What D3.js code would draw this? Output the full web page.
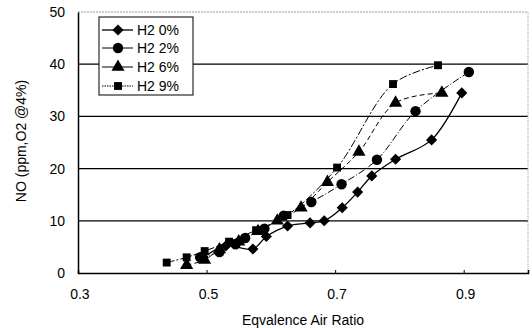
<!DOCTYPE html>
<html>
<head>
<meta charset="utf-8">
<script src="https://cdn.jsdelivr.net/npm/d3@7"></script>
<style>
  body { margin: 0; background: #fff; }
  text { font-family: "Liberation Sans", Arial, sans-serif; fill: #000; }
</style>
</head>
<body>
<div id="chart"></div>
<script>
// data
const seriesNames = ["H2 0%", "H2 2%", "H2 6%", "H2 9%"];
const xH0 = [0.495, 0.53, 0.572, 0.593, 0.626, 0.661, 0.683, 0.711, 0.735, 0.757, 0.794, 0.85, 0.897];
const yH0 = [3.0, 5.2, 4.6, 7.0, 9.0, 9.6, 10.0, 12.5, 15.5, 18.6, 21.8, 25.5, 34.5];
const xH2 = [0.49, 0.52, 0.545, 0.56, 0.59, 0.62, 0.663, 0.71, 0.765, 0.825, 0.908];
const yH2 = [3.0, 4.0, 5.5, 6.7, 8.5, 11.0, 13.6, 17.0, 21.7, 31.0, 38.5];
const xH6 = [0.469, 0.497, 0.52, 0.55, 0.58, 0.61, 0.647, 0.688, 0.737, 0.794, 0.866];
const yH6 = [1.5, 2.5, 4.5, 6.0, 8.0, 10.0, 12.5, 17.4, 23.2, 32.6, 34.5];
const xH9 = [0.438, 0.469, 0.497, 0.535, 0.577, 0.626, 0.703, 0.79, 0.86];
const yH9 = [2.0, 3.0, 4.2, 6.0, 8.2, 11.1, 20.2, 36.2, 39.8];
const xTicks = [0.3, 0.5, 0.7, 0.9];
const yTicks = [0, 10, 20, 30, 40, 50];

const width = 532, height = 328;
const margin = {top: 12, right: 4, bottom: 55, left: 78};

const svg = d3.select("#chart").append("svg")
  .attr("width", width)
  .attr("height", height);

const x = d3.scaleLinear().domain([0.3, 1.0]).range([margin.left, width - margin.right]);
const y = d3.scaleLinear().domain([0, 50]).range([height - margin.bottom, margin.top]);

// grid lines
svg.append("g")
  .selectAll("line")
  .data(yTicks.filter(d => d > 0))
  .join("line")
    .attr("x1", x(0.3))
    .attr("x2", x(1.0))
    .attr("y1", d => y(d))
    .attr("y2", d => y(d))
    .attr("stroke", d => d == 50 ? "#999" : "#000")
    .attr("stroke-dasharray", d => d == 50 ? "2,1" : null)
    .attr("stroke-width", 1.2);

// right border, dotted
svg.append("line")
  .attr("x1", x(1.0)).attr("x2", x(1.0))
  .attr("y1", y(50)).attr("y2", y(0))
  .attr("stroke", "#999")
  .attr("stroke-dasharray", "1,1");

// y axis
const yAxis = svg.append("g")
  .attr("transform", `translate(${x(0.3)},0)`)
  .call(d3.axisLeft(y).tickValues(yTicks).tickSize(0).tickPadding(13));
yAxis.select(".domain").attr("stroke", "#000").attr("stroke-width", 1.5);
yAxis.selectAll("text").style("font-size", "14px");

// x axis
const xAxis = svg.append("g")
  .attr("transform", `translate(0,${y(0)})`)
  .call(d3.axisBottom(x).tickValues(xTicks).tickFormat(d3.format(".1f")).tickSize(-3).tickPadding(16));
xAxis.select(".domain").attr("stroke", "#000").attr("stroke-width", 1.5);
xAxis.selectAll("line").attr("stroke", "#000");
xAxis.selectAll("text").style("font-size", "14px").attr("dx", "0.1em");

// axis titles
svg.append("text")
  .attr("x", 303)
  .attr("y", 325)
  .attr("text-anchor", "middle")
  .style("font-size", "14px")
  .text("Eqvalence Air Ratio");

svg.append("text")
  .attr("transform", `translate(26,141) rotate(-90)`)
  .attr("text-anchor", "middle")
  .style("font-size", "14px")
  .text("NO (ppm,O2 @4%)");

// series (diamond = square turned 45 degrees)
const series = [
  {name: seriesNames[0], xs: xH0, ys: yH0, symbol: d3.symbolSquare, rot: 45, size: 62, dash: null, lw: 1.3},
  {name: seriesNames[1], xs: xH2, ys: yH2, symbol: d3.symbolCircle, rot: 0, size: 85, dash: "7,2,1,2", lw: 1},
  {name: seriesNames[2], xs: xH6, ys: yH6, symbol: d3.symbolTriangle, rot: 0, size: 75, dash: "5,3", lw: 1},
  {name: seriesNames[3], xs: xH9, ys: yH9, symbol: d3.symbolSquare, rot: 0, size: 62, dash: "8,2,2,2", lw: 1}
];

const line = d3.line()
  .x(d => x(d[0]))
  .y(d => y(d[1]))
  .curve(d3.curveCatmullRom.alpha(0.5));

series.forEach(function(s) {
  const pts = s.xs.map((v, i) => [v, s.ys[i]]);
  svg.append("path")
    .datum(pts)
    .attr("d", line)
    .attr("fill", "none")
    .attr("stroke", "#000")
    .attr("stroke-width", s.lw)
    .attr("stroke-dasharray", s.dash);
  svg.append("g")
    .selectAll("path")
    .data(pts)
    .join("path")
      .attr("transform", d => `translate(${x(d[0])},${y(d[1])}) rotate(${s.rot})`)
      .attr("d", d3.symbol().type(s.symbol).size(s.size))
      .attr("fill", "#000");
});

// legend
const leg = svg.append("g");
leg.append("rect")
  .attr("x", 99).attr("y", 17)
  .attr("width", 94).attr("height", 78)
  .attr("fill", "#fff")
  .attr("stroke", "#000");

const rowY = [30, 48, 67, 86];
series.forEach(function(s, i) {
  leg.append("line")
    .attr("x1", 102).attr("x2", 133)
    .attr("y1", rowY[i]).attr("y2", rowY[i])
    .attr("stroke", "#000")
    .attr("stroke-width", s.lw)
    .attr("stroke-dasharray", i == 3 ? "1.5,1" : null);
  leg.append("path")
    .attr("transform", `translate(118,${rowY[i]}) rotate(${s.rot})`)
    .attr("d", d3.symbol().type(s.symbol).size(s.size))
    .attr("fill", "#000");
  leg.append("text")
    .attr("x", 137)
    .attr("y", rowY[i])
    .attr("dy", "0.36em")
    .style("font-size", "14px")
    .text(s.name);
});
</script>
</body>
</html>
